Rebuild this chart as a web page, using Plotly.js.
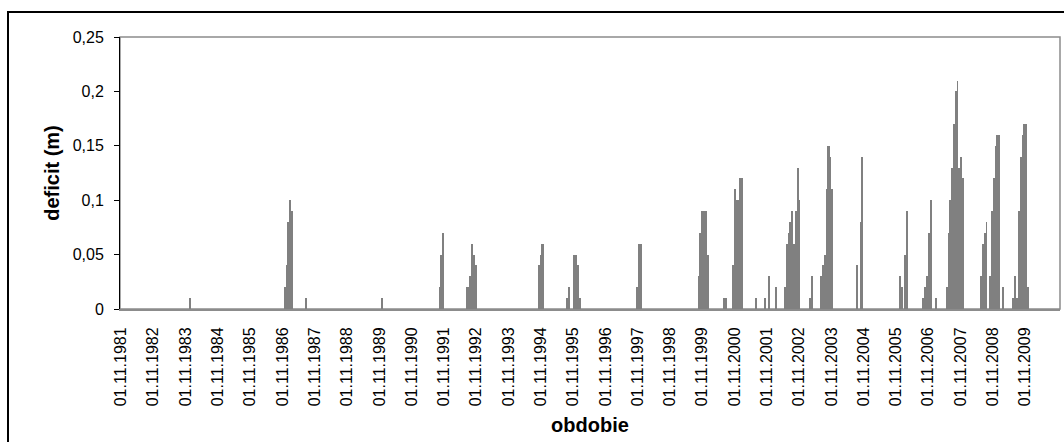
<!DOCTYPE html>
<html>
<head>
<meta charset="utf-8">
<script src="https://cdn.plot.ly/plotly-3.0.1.min.js"></script>
<style>
html,body{margin:0;padding:0;background:#fff;overflow:hidden}
#wrap{position:relative;width:1064px;height:442px;overflow:hidden}
#chart{width:1064px;height:442px}
#frame{position:absolute;left:7px;top:11px;width:1100px;height:600px;border:2px solid #000;pointer-events:none;box-sizing:border-box}
</style>
</head>
<body>
<div id="wrap"><div id="chart"></div><div id="frame"></div></div>
<script>
// Hydrological years labelled on the x axis (01.11.YYYY)
const years = [1981,1982,1983,1984,1985,1986,1987,1988,1989,1990,1991,1992,1993,1994,1995,
               1996,1997,1998,1999,2000,2001,2002,2003,2004,2005,2006,2007,2008,2009];

// Step series: date from which the deficit holds, and the deficit (m); 0 ends an episode
const dates = [
 '1983-12-09','1984-01-01',
 '1986-11-18','1986-12-11','1986-12-22','1987-01-14','1987-02-05','1987-02-28',
 '1987-07-14','1987-08-06',
 '1989-11-20','1989-12-13',
 '1991-09-07','1991-09-18','1991-10-11','1991-11-02',
 '1992-07-09','1992-08-12','1992-09-03','1992-09-26','1992-10-18','1992-11-10',
 '1994-09-30','1994-10-23','1994-11-09','1994-12-02',
 '1995-08-13','1995-09-04','1995-09-27','1995-10-31','1995-12-15','1996-01-07','1996-01-29',
 '1997-10-14','1997-11-06','1997-12-21',
 '1999-09-14','1999-09-26','1999-10-18','1999-12-25','2000-01-17',
 '2000-06-24','2000-08-08',
 '2000-10-04','2000-10-26','2000-11-18','2000-12-22','2001-02-05',
 '2001-06-21','2001-07-13','2001-09-30','2001-10-23','2001-11-15','2001-12-07','2002-02-02','2002-02-24',
 '2002-05-14','2002-06-06','2002-06-28','2002-07-10','2002-08-01','2002-08-24','2002-09-16','2002-10-08','2002-10-31','2002-11-11',
 '2003-02-21','2003-03-16','2003-04-07',
 '2003-06-25','2003-07-18','2003-08-09','2003-09-01','2003-09-18','2003-10-11','2003-10-27','2003-11-19',
 '2004-08-06','2004-08-29','2004-09-20','2004-10-01','2004-10-24',
 '2005-12-05','2005-12-28','2006-01-19','2006-01-30','2006-02-22','2006-03-17',
 '2006-08-22','2006-09-13','2006-10-06','2006-10-29','2006-11-20','2006-12-13','2007-01-16','2007-02-07',
 '2007-05-21','2007-06-13','2007-06-24','2007-07-11','2007-08-03','2007-08-25','2007-09-17','2007-09-28','2007-10-21','2007-11-12','2007-12-11',
 '2008-06-09','2008-07-02','2008-07-24','2008-08-16','2008-08-27',
 '2008-09-19','2008-10-12','2008-11-03','2008-11-26','2008-12-07','2009-01-21','2009-02-13','2009-03-08',
 '2009-06-06','2009-06-28','2009-07-21','2009-08-13','2009-09-03','2009-09-27','2009-10-08','2009-11-22','2009-12-15'
];
const deficit = [
 0.01,0,
 0.02,0.04,0.08,0.10,0.09,0,
 0.01,0,
 0.01,0,
 0.02,0.05,0.07,0,
 0.02,0.03,0.06,0.05,0.04,0,
 0.04,0.05,0.06,0,
 0.01,0.02,0,0.05,0.04,0.01,0,
 0.02,0.06,0,
 0.03,0.07,0.09,0.05,0,
 0.01,0,
 0.04,0.11,0.10,0.12,0,
 0.01,0,0.01,0,0.03,0,0.02,0,
 0.02,0.06,0.07,0.08,0.09,0.06,0.09,0.13,0.10,0,
 0.01,0.03,0,
 0.03,0.04,0.05,0.11,0.15,0.14,0.11,0,
 0.04,0,0.08,0.14,0,
 0.03,0.02,0,0.05,0.09,0,
 0.01,0.02,0.03,0.07,0.10,0,0.01,0,
 0.02,0.07,0.10,0.13,0.17,0.20,0.21,0.13,0.14,0.12,0,
 0.03,0.06,0.07,0.08,0,
 0.03,0.09,0.12,0.15,0.16,0,0.02,0,
 0.01,0.03,0.01,0.09,0.14,0.16,0.17,0.02,0
];

const yTickVals = [0,0.05,0.1,0.15,0.2,0.25];
const yTickLabels = ['0','0,05','0,1','0,15','0,2','0,25'];

const xStart = [], xWidth = [], yVal = [];
for (let i = 0; i < dates.length - 1; i++) {
  if (deficit[i] > 0) {
    xStart.push(dates[i]);
    xWidth.push(Date.parse(dates[i+1]) - Date.parse(dates[i]));
    yVal.push(deficit[i]);
  }
}

const FONT = 'Liberation Sans, Arial, Helvetica, sans-serif';

const trace = {
  type: 'bar', x: xStart, y: yVal, width: xWidth, offset: 0,
  marker: {color: '#808080', line: {width: 0}},
  hoverinfo: 'x+y'
};

const layout = {
  width: 1064, height: 442,
  margin: {l: 120, r: 4, t: 37, b: 133, pad: 0},
  paper_bgcolor: '#ffffff', plot_bgcolor: '#ffffff',
  font: {family: FONT, size: 16, color: '#000'},
  showlegend: false, bargap: 0,
  xaxis: {
    type: 'date',
    range: ['1981-10-21', '2010-11-30'],
    tickmode: 'array',
    tickvals: years.map(y => y + '-11-01'),
    ticktext: years.map(y => '01.11.' + y),
    tickangle: -90, ticks: '', ticklabelstandoff: 10,
    showgrid: false, zeroline: false,
    showline: true, linecolor: '#8c8c8c', linewidth: 2,
    tickfont: {family: FONT, size: 16, color: '#000'},
    title: {text: '<b>obdobie</b>', font: {family: FONT, size: 20, color: '#000'}, standoff: 13}
  },
  yaxis: {
    range: [0, 0.25], tickmode: 'array', tickvals: yTickVals, ticktext: yTickLabels,
    ticks: 'outside', ticklen: 5, tickwidth: 1, tickcolor: '#000', ticklabelstandoff: 7,
    showgrid: false, zeroline: false,
    showline: true, linecolor: '#000', linewidth: 1,
    tickfont: {family: FONT, size: 16, color: '#000'},
    title: {text: '<b>deficit (m)</b>', font: {family: FONT, size: 20, color: '#000'}, standoff: 7}
  },
  shapes: [{type: 'rect', xref: 'paper', yref: 'paper', x0: 0, x1: 1, y0: 0, y1: 1,
            line: {color: '#8c8c8c', width: 1.5}, layer: 'below'}]
};

Plotly.newPlot('chart', [trace], layout, {staticPlot: true, displayModeBar: false});
</script>
</body>
</html>
